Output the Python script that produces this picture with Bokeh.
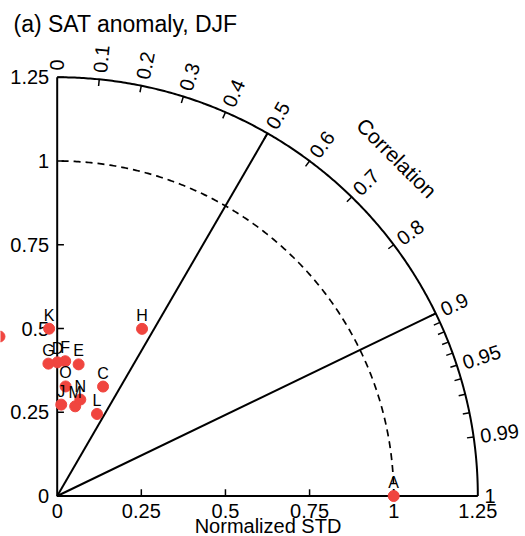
import numpy as np
from bokeh.plotting import figure
from bokeh.models import Range1d
from bokeh.core.properties import value
from bokeh.embed import file_html
from bokeh.resources import INLINE

# ---- data: normalized standard deviation and correlation of each model ----
names = ["A", "B", "C", "D", "E", "F", "G", "H", "J", "K", "L", "M", "N", "O"]
std = [1.0, 0.506, 0.354, 0.399, 0.398, 0.403, 0.396, 0.559, 0.273, 0.500, 0.272, 0.273, 0.296, 0.328]
corr = [1.0, -0.339, 0.385, 0.002, 0.160, 0.059, -0.066, 0.451, 0.044, -0.048, 0.435, 0.196, 0.232, 0.076]

std_ticks = [0, 0.25, 0.5, 0.75, 1.0, 1.25]
std_labels = ["0", "0.25", "0.5", "0.75", "1", "1.25"]
corr_ticks = [0, 0.1, 0.2, 0.3, 0.4, 0.5, 0.6, 0.7, 0.8, 0.9, 0.95, 0.99, 1.0]
corr_labels = ["0", "0.1", "0.2", "0.3", "0.4", "0.5", "0.6", "0.7", "0.8", "0.9", "0.95", "0.99", "1"]
corr_minor = [0.91, 0.92, 0.93, 0.94, 0.96, 0.97, 0.98]
corr_lines = [0.5, 0.9]
title = "(a) SAT anomaly, DJF"
xlabel = "Normalized STD"
clabel = "Correlation"

# ---- layout ----
W, H = 525, 536
OX, OY = 56.7, 495.5      # pixel position of origin
SX, SY = 336.5, 335.0     # pixels per unit
RMAX = 1.25
FONT = value("Liberation Sans")
RED = "#f0453f"

p = figure(width=W, height=H,
           x_range=Range1d(-OX / SX, (W - OX) / SX),
           y_range=Range1d(-(H - OY) / SY, OY / SY),
           x_axis_type=None, y_axis_type=None,
           min_border=0, toolbar_location=None, output_backend="svg")
p.grid.visible = False
p.outline_line_color = None
p.background_fill_color = "white"
p.border_fill_color = "white"

LW = 2
# axes
p.line([0, 0, RMAX], [RMAX, 0, 0], line_color="black", line_width=LW)
# outer arc
t = np.linspace(0, np.pi / 2, 300)
p.line(RMAX * np.cos(t), RMAX * np.sin(t), line_color="black", line_width=LW)
# dashed reference arc
p.line(np.cos(t), np.sin(t), line_color="black", line_width=1.7, line_dash="7 5")
# radial lines
rl_x = [[0, RMAX * c] for c in corr_lines]
rl_y = [[0, RMAX * np.sqrt(1 - c * c)] for c in corr_lines]
p.multi_line(rl_x, rl_y, line_color="black", line_width=LW)

# std ticks
tl = 0.02
xs_t, ys_t = [], []
for v in std_ticks[1:-1]:
    xs_t.append([v, v]); ys_t.append([0, tl])
for v in std_ticks[1:]:
    xs_t.append([0, tl]); ys_t.append([v, v])
# correlation ticks
for c in corr_ticks[1:-1] + corr_minor:
    a = np.arccos(c)
    xs_t.append([RMAX * np.cos(a), (RMAX - tl) * np.cos(a)])
    ys_t.append([RMAX * np.sin(a), (RMAX - tl) * np.sin(a)])
p.multi_line(xs_t, ys_t, line_color="black", line_width=1.5)

# std tick labels
p.text(x=[-8 / SX] * len(std_ticks), y=std_ticks, text=std_labels,
       text_font=FONT, text_font_size="20px", text_align="right",
       text_baseline="middle", text_color="black")
p.text(x=std_ticks, y=[(OY - 510.5) / SY] * len(std_ticks), text=std_labels,
       text_font=FONT, text_font_size="20px", text_align="center",
       text_baseline="middle", text_color="black")

# correlation labels
RL = 1.27
ang = [float(np.arccos(c)) for c in corr_ticks]
p.text(x=[RL * np.cos(a) for a in ang], y=[RL * np.sin(a) for a in ang],
       text=corr_labels, angle=ang, text_font=FONT, text_font_size="20px",
       text_align="left", text_baseline="middle", text_color="black")

# titles
p.text(x=[1.427 * np.cos(np.pi / 4)], y=[1.427 * np.sin(np.pi / 4)], text=[clabel],
       angle=-np.pi / 4, text_font=FONT, text_font_size="21px",
       text_align="center", text_baseline="middle", text_color="black")
p.text(x=[(267.5 - OX) / SX], y=[(OY - 525.5) / SY], text=[xlabel],
       text_font=FONT, text_font_size="20px", text_align="center",
       text_baseline="middle", text_color="black")
p.text(x=[(13 - OX) / SX], y=[(OY - 23.3) / SY], text=[title],
       text_font=FONT, text_font_size="23px", text_align="left",
       text_baseline="middle", text_color="black")

# points
std_a = np.array(std)
corr_a = np.array(corr)
px = std_a * corr_a
py = std_a * np.sqrt(1 - corr_a ** 2)
p.scatter(px, py, size=11, fill_color=RED, line_color=RED)
vis = px > -0.1
p.text(x=px[vis], y=py[vis] + 13.5 / SY, text=[n for n, v in zip(names, vis) if v],
       text_font=FONT, text_font_size="16px",
       text_align="center", text_baseline="middle", text_color="black")

open("out.html", "w").write(file_html(p, INLINE))
